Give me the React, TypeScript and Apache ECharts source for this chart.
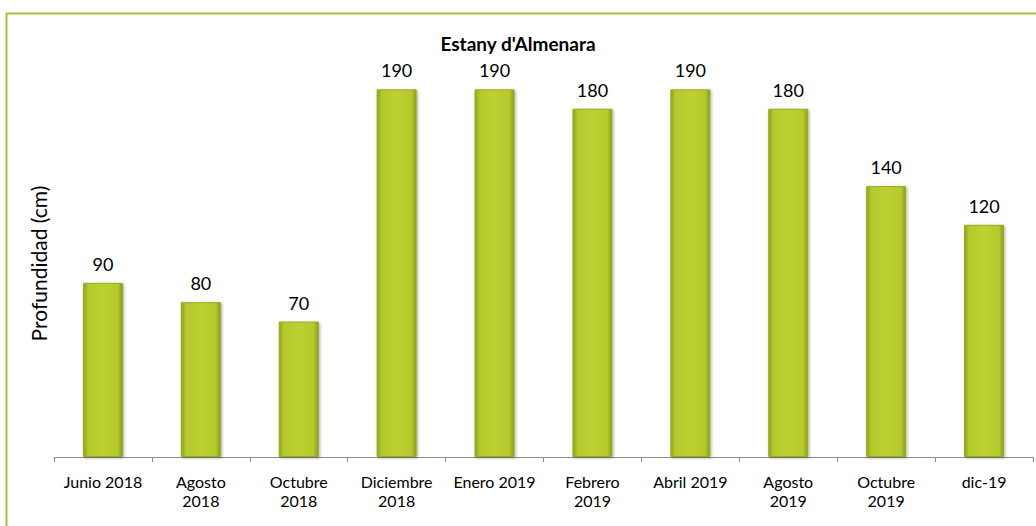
import React, { useEffect, useRef } from "react";
import * as echarts from "echarts";

const categories = [
  "Junio 2018",
  "Agosto\n2018",
  "Octubre\n2018",
  "Diciembre\n2018",
  "Enero 2019",
  "Febrero\n2019",
  "Abril 2019",
  "Agosto\n2019",
  "Octubre\n2019",
  "dic-19",
];
const depths = [90, 80, 70, 190, 190, 180, 190, 180, 140, 120];
const title = "Estany d'Almenara";
const yName = "Profundidad (cm)";

export default function App() {
  const ref = useRef<HTMLDivElement>(null);
  useEffect(() => {
    if (!ref.current) return;
    const chart = echarts.init(ref.current, null, { renderer: "svg" });
    const font = "Lato, 'Open Sans', sans-serif";
    chart.setOption({
      animation: false,
      backgroundColor: "#ffffff",
      title: {
        text: title,
        left: "center",
        top: 29,
        textStyle: { fontFamily: font, fontSize: 19, fontWeight: "bold", color: "#000" },
      },
      graphic: [
        {
          type: "rect",
          shape: { x: 6.5, y: 13.5, width: 1100, height: 600 },
          style: { fill: "none", stroke: "#a6c23c", lineWidth: 2 },
          silent: true,
        },
      ],
      grid: { left: 54, right: 3, top: 70, bottom: 69 },
      xAxis: {
        type: "category",
        data: categories,
        boundaryGap: true,
        axisLine: { lineStyle: { color: "#8c8c8c", width: 1 } },
        axisTick: { show: true, alignWithLabel: false, length: 5, lineStyle: { color: "#8c8c8c" } },
        axisLabel: {
          interval: 0,
          margin: 15,
          fontFamily: font,
          fontSize: 16,
          lineHeight: 19,
          color: "#000",
        },
      },
      yAxis: {
        type: "value",
        min: 0,
        max: 200,
        name: yName,
        nameLocation: "middle",
        nameGap: 5,
        nameTextStyle: { fontFamily: font, fontSize: 21, color: "#000" },
        axisLine: { show: false },
        axisTick: { show: false },
        axisLabel: { show: false },
        splitLine: { show: false },
      },
      series: [
        {
          type: "bar",
          data: depths,
          barWidth: 40,
          itemStyle: {
            color: new echarts.graphic.LinearGradient(0, 0, 1, 0, [
              { offset: 0, color: "#8fa31c" },
              { offset: 0.12, color: "#b5c92c" },
              { offset: 0.5, color: "#bdd031" },
              { offset: 0.88, color: "#b5c92c" },
              { offset: 1, color: "#8a9c1a" },
            ]),
            borderColor: "#9aad22",
            borderWidth: 1,
            shadowColor: "rgba(0,0,0,0.35)",
            shadowBlur: 3,
            shadowOffsetX: 1,
            shadowOffsetY: 1,
          },
          label: {
            show: true,
            position: "top",
            distance: 10,
            fontFamily: font,
            fontSize: 18,
            color: "#000",
          },
        },
      ],
    });
    return () => chart.dispose();
  }, []);
  return (
    <div
      ref={ref}
      style={{ position: "fixed", left: 0, top: 0, width: 1036, height: 526 }}
    />
  );
}
